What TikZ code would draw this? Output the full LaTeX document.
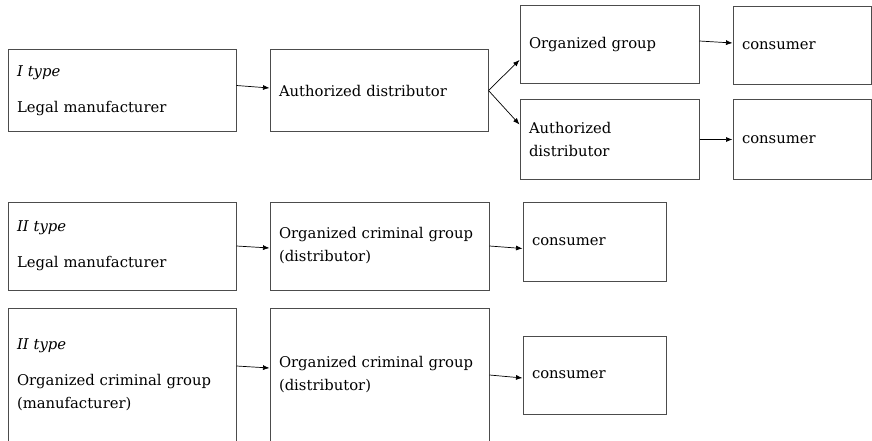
\documentclass[tikz,border=0pt]{standalone}
\usepackage{fontspec}
\setmainfont{DejaVu Serif}
\usetikzlibrary{arrows.meta, positioning}

\tikzset{
  stage/.style={draw=black!70, line width=1pt, align=left, inner xsep=9pt, inner ysep=0pt,
    font=\fontsize{14.8}{23}\selectfont},
  flow/.style={-{Latex[length=6.5pt,width=5pt]}, line width=0.7pt},
}

\begin{document}
\begin{tikzpicture}[x=1pt, y=-1pt]
  \useasboundingbox (0,0) rectangle (872,441);

  % I type chain
  \node[stage, text width=210pt, minimum height=81pt] (man1) at (122,90.5)
    {\textit{I type}\\[13pt]Legal manufacturer};
  \node[stage, text width=200pt, minimum height=81pt] (dist1) at (379,90.5)
    {Authorized distributor};
  \node[stage, text width=161pt, minimum height=78pt] (grp1) at (609.5,45)
    {Organized group};
  \node[stage, text width=120pt, minimum height=78pt] (cons1) at (802,46)
    {consumer};
  \node[stage, text width=161pt, minimum height=79pt] (auth1) at (609.5,139.5)
    {Authorized\\distributor};
  \node[stage, text width=120pt, minimum height=79pt] (cons2) at (802,139.5)
    {consumer};

  \draw[flow] ([yshift=5pt]man1.east) -- ([yshift=2.5pt]dist1.west);
  \draw[flow] (dist1.east) -- ([yshift=-15pt]grp1.west);
  \draw[flow] (dist1.east) -- ([yshift=15pt]auth1.west);
  \draw[flow] ([yshift=4pt]grp1.east) -- ([yshift=3pt]cons1.west);
  \draw[flow] (auth1.east) -- (cons2.west);

  % II type, legal manufacturer
  \node[stage, text width=210pt, minimum height=88pt] (man2) at (122,246)
    {\textit{II type}\\[13pt]Legal manufacturer};
  \node[stage, text width=201pt, minimum height=88pt] (dist2) at (379.5,246)
    {Organized criminal group\\(distributor)};
  \node[stage, text width=125pt, minimum height=79pt] (cons3) at (594.5,241.5)
    {consumer};

  \draw[flow] (man2.east) -- ([yshift=-2pt]dist2.west);
  \draw[flow] (dist2.east) -- ([yshift=-7pt]cons3.west);

  % II type, criminal manufacturer
  \node[stage, text width=210pt, minimum height=134pt] (man3) at (122,375)
    {\textit{II type}\\[13pt]Organized criminal group\\(manufacturer)};
  \node[stage, text width=201pt, minimum height=134pt] (dist3) at (379.5,375)
    {Organized criminal group\\(distributor)};
  \node[stage, text width=125pt, minimum height=78pt] (cons4) at (594.5,375)
    {consumer};

  \draw[flow] ([yshift=9pt]man3.east) -- ([yshift=7pt]dist3.west);
  \draw[flow] (dist3.east) -- ([yshift=-3pt]cons4.west);
\end{tikzpicture}
\end{document}
